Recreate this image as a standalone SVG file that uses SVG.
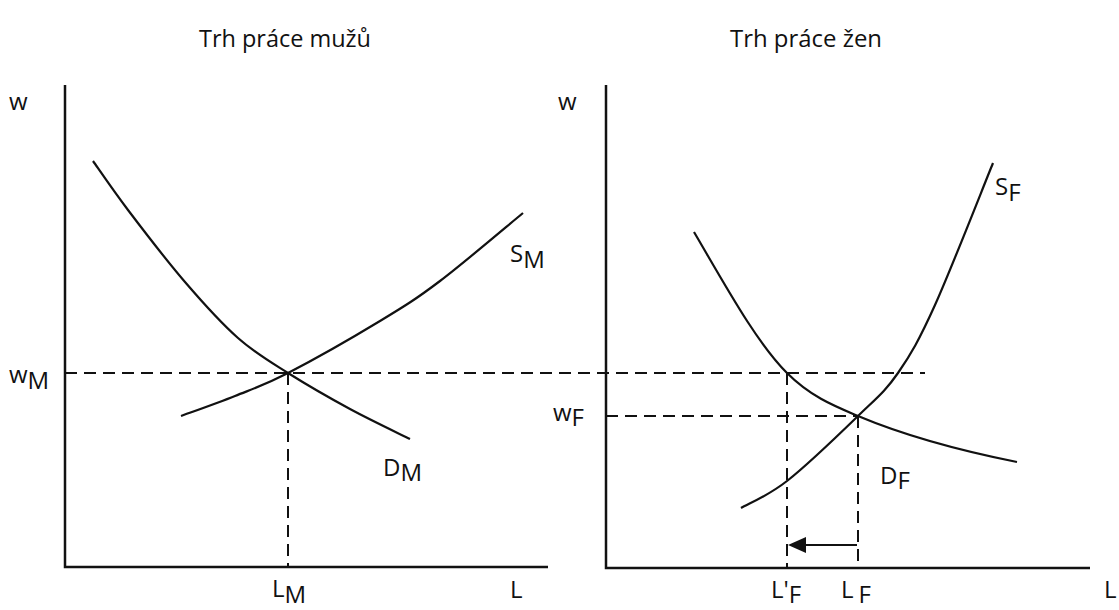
<svg xmlns="http://www.w3.org/2000/svg" width="1119" height="610" viewBox="0 0 1119 610">
<style>
text{font-family:"Open Sans","Noto Sans","Liberation Sans",sans-serif;font-size:24px;fill:#111}
.title{font-size:23px}
.axis{stroke:#111;stroke-width:2.5;fill:none}
.curve{stroke:#111;stroke-width:2.2;fill:none}
.dash{stroke:#111;stroke-width:2;fill:none;stroke-dasharray:12 7}
</style>
<rect width="1119" height="610" fill="#fff"/>
<g id="titles">
<text class="title" x="285" y="47" text-anchor="middle" textLength="172" lengthAdjust="spacingAndGlyphs">Trh práce mužů</text>
<text class="title" x="806" y="47" text-anchor="middle" textLength="152" lengthAdjust="spacingAndGlyphs">Trh práce žen</text>
</g>
<g id="axes">
<path class="axis" d="M65,85 V567 H548"/>
<path class="axis" d="M606,85 V568 H1090"/>
</g>
<g id="connectors">
<path class="dash" d="M65,373 H925"/>
<path class="dash" d="M288,373 V567"/>
<path class="dash" d="M606,416 H858"/>
<path class="dash" d="M787,373 V568"/>
<path class="dash" d="M858,416 V568"/>
<path class="curve" d="M857,545 H803"/>
<polygon points="788,545 806,537 806,553" fill="#111"/>
</g>
<g id="curve-DM">
<path class="curve" d="M93,161 C98.8,169.2 112.7,189.8 128,210 C143.3,230.2 166.7,260.7 185,282 C203.3,303.3 220.8,322.8 238,338 C255.2,353.2 269.3,361.2 288,373 C306.7,384.8 329.7,398 350,409 C370.3,420 400,434 410,439"/>
<text x="383" y="476">D<tspan dy="5">M</tspan></text>
</g>
<g id="curve-SM">
<path class="curve" d="M181,416 C190,412.7 217.2,403.2 235,396 C252.8,388.8 263.8,385.5 288,373 C312.2,360.5 354.7,336.3 380,321 C405.3,305.7 416.2,299 440,281 C463.8,263 509.2,224.3 523,213"/>
<text x="510" y="262">S<tspan dy="6">M</tspan></text>
</g>
<g id="curve-DF">
<path class="curve" d="M694,232 C725,284.7 756,342 787,373 C810.7,396.7 834.3,406 858,416 C911,438.3 964,451.4 1017,462"/>
<text x="880" y="484">D<tspan dy="5">F</tspan></text>
</g>
<g id="curve-SF">
<path class="curve" d="M741,508 C748.7,503.5 767.5,496.3 787,481 C806.5,465.7 839.5,434 858,416 C876.5,398 885.2,391.5 898,373 C910.8,354.5 919.2,340 935,305 C950.8,270 983.3,186.7 993,163"/>
<text x="995" y="195">S<tspan dy="6">F</tspan></text>
</g>
<g id="labels">
<text x="9" y="110">w</text>
<text x="558" y="110">w</text>
<text x="9" y="383">w<tspan dy="6">M</tspan></text>
<text x="553" y="421">w<tspan dy="5">F</tspan></text>
<text x="272" y="597">L<tspan dy="6">M</tspan></text>
<text x="510" y="598">L</text>
<text x="771" y="598">L'<tspan dy="5">F</tspan></text>
<text x="841" y="598">L<tspan dx="5" dy="5">F</tspan></text>
<text x="1104" y="598">L</text>
</g>
</svg>
